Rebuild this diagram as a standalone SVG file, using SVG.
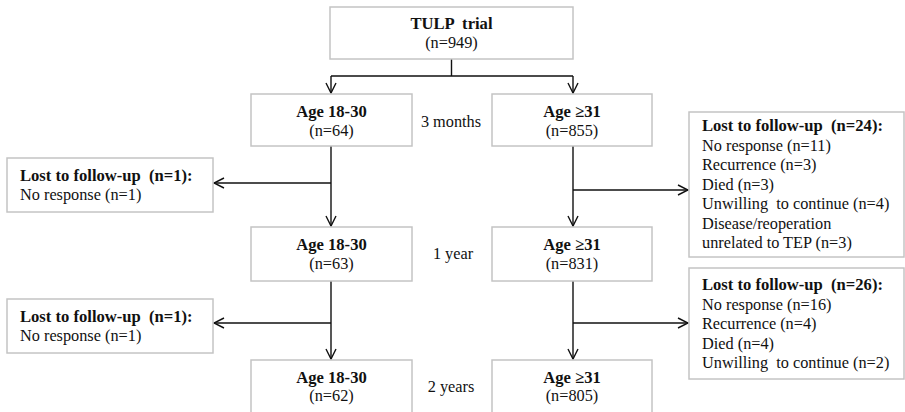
<svg xmlns="http://www.w3.org/2000/svg" width="905" height="412" viewBox="0 0 905 412">
  <style>
    .box { fill: #ffffff; stroke: #c4c4c4; stroke-width: 1.5; }
    .t { font-family: "Liberation Serif", "Times New Roman", serif; font-size: 16.3px; fill: #111; }
    .b { font-weight: bold; font-size: 16.6px; }
    .c { text-anchor: middle; }
    .line { fill: none; stroke: #111; stroke-width: 1.4; }
  </style>
  <defs>
    <marker id="arrow" viewBox="0 0 12 12" refX="11" refY="6" markerWidth="12" markerHeight="12" markerUnits="userSpaceOnUse" orient="auto">
      <path d="M1,1 L11,6 L1,11" fill="none" stroke="#111" stroke-width="1.4"/>
    </marker>
  </defs>
  <rect width="905" height="412" fill="#ffffff"/>

  <!-- connectors -->
  <g id="connectors">
    <path class="line" d="M451.5,59 V76 M331,76 H573"/>
    <path class="line" d="M331,76 V93" marker-end="url(#arrow)"/>
    <path class="line" d="M573,76 V93" marker-end="url(#arrow)"/>
    <path class="line" d="M331,146 V226" marker-end="url(#arrow)"/>
    <path class="line" d="M331,183 H214" marker-end="url(#arrow)"/>
    <path class="line" d="M573,146 V226" marker-end="url(#arrow)"/>
    <path class="line" d="M573,190 H688" marker-end="url(#arrow)"/>
    <path class="line" d="M331,281 V359" marker-end="url(#arrow)"/>
    <path class="line" d="M331,323 H214" marker-end="url(#arrow)"/>
    <path class="line" d="M573,281 V359" marker-end="url(#arrow)"/>
    <path class="line" d="M573,323 H688" marker-end="url(#arrow)"/>
  </g>

  <!-- timepoint labels -->
  <g id="timepoints">
    <text class="t c" x="451" y="127">3 months</text>
    <text class="t c" x="453" y="259">1 year</text>
    <text class="t c" x="451" y="392">2 years</text>
  </g>

  <g id="trial">
    <rect class="box" x="330" y="7" width="243" height="52"/>
    <text class="t b c" x="451.5" y="29" xml:space="preserve">TULP  trial</text>
    <text class="t c" x="451.5" y="48">(n=949)</text>
  </g>

  <g id="young-3m">
    <rect class="box" x="251" y="94" width="161" height="52"/>
    <text class="t b c" x="331.5" y="117">Age 18-30</text>
    <text class="t c" x="331.5" y="136">(n=64)</text>
  </g>

  <g id="old-3m">
    <rect class="box" x="492" y="94" width="160" height="52"/>
    <text class="t b c" x="572" y="117">Age ≥31</text>
    <text class="t c" x="572" y="136">(n=855)</text>
  </g>

  <g id="lost-young-1">
    <rect class="box" x="7" y="158" width="206" height="54"/>
    <text class="t b" x="20" y="181" xml:space="preserve">Lost to follow-up  (n=1):</text>
    <text class="t" x="20" y="200">No response (n=1)</text>
  </g>

  <g id="lost-old-1">
    <rect class="box" x="689" y="112" width="215" height="145"/>
    <text class="t b" x="702" y="131" xml:space="preserve">Lost to follow-up  (n=24):</text>
    <text class="t" x="702" y="150.5">No response (n=11)</text>
    <text class="t" x="702" y="170">Recurrence (n=3)</text>
    <text class="t" x="702" y="189.5">Died (n=3)</text>
    <text class="t" x="702" y="209" xml:space="preserve">Unwilling  to continue (n=4)</text>
    <text class="t" x="702" y="228.5">Disease/reoperation</text>
    <text class="t" x="702" y="248">unrelated to TEP (n=3)</text>
  </g>

  <g id="young-1y">
    <rect class="box" x="251" y="227" width="161" height="54"/>
    <text class="t b c" x="331.5" y="250">Age 18-30</text>
    <text class="t c" x="331.5" y="269">(n=63)</text>
  </g>

  <g id="old-1y">
    <rect class="box" x="492" y="227" width="160" height="54"/>
    <text class="t b c" x="572" y="250">Age ≥31</text>
    <text class="t c" x="572" y="269">(n=831)</text>
  </g>

  <g id="lost-young-2">
    <rect class="box" x="7" y="299" width="206" height="54"/>
    <text class="t b" x="20" y="322" xml:space="preserve">Lost to follow-up  (n=1):</text>
    <text class="t" x="20" y="341">No response (n=1)</text>
  </g>

  <g id="lost-old-2">
    <rect class="box" x="689" y="268" width="215" height="111"/>
    <text class="t b" x="702" y="290" xml:space="preserve">Lost to follow-up  (n=26):</text>
    <text class="t" x="702" y="309.5">No response (n=16)</text>
    <text class="t" x="702" y="329">Recurrence (n=4)</text>
    <text class="t" x="702" y="348.5">Died (n=4)</text>
    <text class="t" x="702" y="368" xml:space="preserve">Unwilling  to continue (n=2)</text>
  </g>

  <g id="young-2y">
    <rect class="box" x="251" y="360" width="161" height="60"/>
    <text class="t b c" x="331.5" y="383">Age 18-30</text>
    <text class="t c" x="331.5" y="401">(n=62)</text>
  </g>

  <g id="old-2y">
    <rect class="box" x="492" y="360" width="160" height="60"/>
    <text class="t b c" x="572" y="383">Age ≥31</text>
    <text class="t c" x="572" y="401">(n=805)</text>
  </g>
</svg>
